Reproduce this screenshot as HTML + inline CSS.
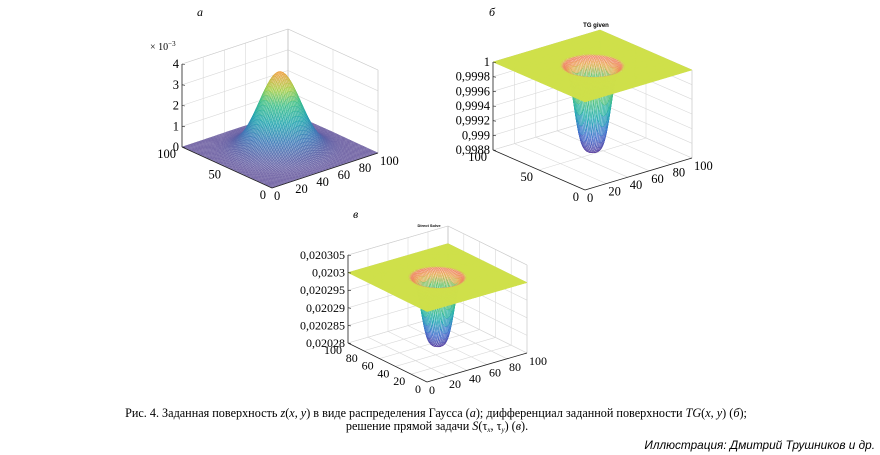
<!DOCTYPE html>
<html><head><meta charset="utf-8"><style>
html,body{margin:0;padding:0;background:#fff;}
svg{display:block;}
text{font-family:"Liberation Serif",serif;}
</style></head><body>
<svg id="s" width="880" height="455" xmlns="http://www.w3.org/2000/svg">
<text x="197" y="16" font-size="12" font-style="italic">a</text>
<text x="489" y="16" font-size="12" font-style="italic">б</text>
<text x="353" y="218" font-size="12" font-style="italic">в</text>
<text x="596" y="27" font-size="6" font-weight="bold" text-anchor="middle" style="font-family:'Liberation Sans',sans-serif">TG given</text>
<text x="429" y="227" font-size="4" text-anchor="middle" style="font-family:'Liberation Sans',sans-serif" font-weight="bold">Direct Solve</text>
<text x="150" y="50" font-size="10">× 10<tspan dy="-4" font-size="7">−3</tspan></text>
<text x="436" y="417" font-size="12.2" text-anchor="middle">Рис. 4. Заданная поверхность <tspan font-style="italic">z</tspan>(<tspan font-style="italic">x</tspan>, <tspan font-style="italic">y</tspan>) в виде распределения Гаусса (<tspan font-style="italic">a</tspan>); дифференциал заданной поверхности <tspan font-style="italic">TG</tspan>(<tspan font-style="italic">x</tspan>, <tspan font-style="italic">y</tspan>) (<tspan font-style="italic">б</tspan>);</text>
<text x="437" y="430" font-size="12.2" text-anchor="middle">решение прямой задачи <tspan font-style="italic">S</tspan>(τ<tspan font-size="7" dy="2" font-style="italic">x</tspan><tspan dy="-2">, τ</tspan><tspan font-size="7" dy="2" font-style="italic">y</tspan><tspan dy="-2">) (</tspan><tspan font-style="italic">в</tspan>).</text>
<text x="875" y="449" font-size="11.8" font-style="italic" text-anchor="end" style="font-family:'Liberation Sans',sans-serif">Иллюстрация: Дмитрий Трушников и др.</text>
</svg>
<script>
var S=document.getElementById('s'),NS='http://www.w3.org/2000/svg';
function el(n,a,t){var e=document.createElementNS(NS,n);for(var k in a)e.setAttribute(k,a[k]);if(t!=null)e.textContent=t;S.appendChild(e);return e;}
function hex(c){return [parseInt(c.substr(1,2),16),parseInt(c.substr(3,2),16),parseInt(c.substr(5,2),16)];}
function cmap(stops,t){t=Math.max(0,Math.min(1,t));for(var i=1;i<stops.length;i++){if(t<=stops[i][0]){var a=stops[i-1],b=stops[i],u=(t-a[0])/(b[0]-a[0]||1),ca=hex(a[1]),cb=hex(b[1]);return [0,1,2].map(function(k){return Math.round(ca[k]+(cb[k]-ca[k])*u);});}}return hex(stops[stops.length-1][1]);}
function rgb(c){return 'rgb('+c[0]+','+c[1]+','+c[2]+')';}
function mix(c,w){return c.map(function(v){return Math.round(v+(255-v)*w);});}
function plot(c){
 var L=c.L,F=c.F,R=c.R,H=c.H;
 function P(x,y,z){return [F[0]+x*(R[0]-F[0])+y*(L[0]-F[0]),F[1]+x*(R[1]-F[1])+y*(L[1]-F[1])-z*H];}
 function line(a,b,col,w){el('line',{x1:a[0].toFixed(1),y1:a[1].toFixed(1),x2:b[0].toFixed(1),y2:b[1].toFixed(1),stroke:col,'stroke-width':w||0.6});}
 var g='#d9d9d9';
 c.zt.forEach(function(z){line(P(0,1,z),P(1,1,z),g);line(P(1,1,z),P(1,0,z),g);});
 c.xt.forEach(function(x){line(P(x,0,0),P(x,1,0),g);line(P(x,1,0),P(x,1,1),g);});
 c.yt.forEach(function(y){line(P(0,y,0),P(1,y,0),g);line(P(1,y,0),P(1,y,1),g);});
 line(P(1,1,0),P(1,1,1),'#bbb');line(P(0,1,1),P(1,1,1),'#ccc');line(P(1,1,1),P(1,0,1),'#ccc');line(P(1,0,0),P(1,0,1),'#ccc');
 var N=c.N,q=[];
 for(var i=0;i<N;i++)for(var j=0;j<N;j++){
  var x0=i/N,x1=(i+1)/N,y0=j/N,y1=(j+1)/N;
  var z00=c.f(x0,y0),z10=c.f(x1,y0),z11=c.f(x1,y1),z01=c.f(x0,y1);
  q.push([x0+y0,[P(x0,y0,z00),P(x1,y0,z10),P(x1,y1,z11),P(x0,y1,z01)],(z00+z10+z11+z01)/4]);
 }
 q.sort(function(a,b){return b[0]-a[0];});
 var parts=[];
 q.forEach(function(o){var col=c.col(o[2]);var fill=o[2]>=c.flat?col:mix(col,c.lw);
  parts.push('<polygon points="'+o[1].map(function(p){return p[0].toFixed(1)+','+p[1].toFixed(1);}).join(' ')+'" fill="'+rgb(fill)+'" stroke="'+rgb(col)+'" stroke-width="0.5"/>');});
 var gg=document.createElementNS(NS,'g');gg.innerHTML=parts.join('');S.appendChild(gg);
 line(P(0,1,0),P(0,1,1),'#222',0.8);line(F,L,'#222',0.8);line(F,R,'#222',0.8);
 c.zl.forEach(function(s,k){var p=P(0,1,c.zt[k]);line(p,[p[0]+3,p[1]+0.5],'#222',0.6);el('text',{x:p[0]-3,y:p[1]+4,'font-size':c.fs,'text-anchor':'end'},s);});
 c.xl.forEach(function(s,k){var p=P(c.xt[k],0,0);el('text',{x:p[0]+2,y:p[1]+12,'font-size':c.fs},s);});
 c.yl.forEach(function(s,k){var p=P(0,c.yt[k],0);el('text',{x:p[0]-6,y:p[1]+11,'font-size':c.fs,'text-anchor':'end'},s);});
}
function g2(x,y,s){return Math.exp(-((x-.5)*(x-.5)+(y-.5)*(y-.5))/(2*s*s));}
function sg(x,y,s){var r=Math.sqrt((x-.5)*(x-.5)+(y-.5)*(y-.5))/s;return Math.exp(-r*r*r*r);}
var vir=[[0,'#7466a6'],[0.08,'#5a5fa6'],[0.25,'#3c78b8'],[0.45,'#22a6b0'],[0.65,'#3ec08a'],[0.82,'#a8cf48'],[1,'#f0a040']];
plot({L:[182,147],F:[272,188],R:[378,153],H:83,N:70,lw:0.35,flat:2,fs:12.5,
 f:function(x,y){return 0.94*g2(x,y,0.15);},col:function(z){return cmap(vir,z/0.94);},
 zt:[0,.25,.5,.75,1],zl:['0','1','2','3','4'],xt:[0,.2,.4,.6,.8,1],xl:['0','20','40','60','80','100'],yt:[0,.5,1],yl:['0','50','100']});
var pit=[[0,'#5a3a9a'],[0.25,'#4070d0'],[0.5,'#20b0b0'],[0.75,'#60c870'],[0.9,'#e8b050'],[0.99,'#f08060'],[1,'#cfe04a']];
plot({L:[493,150],F:[585,190],R:[692,158],H:88,N:80,lw:0.45,flat:0.999,fs:12.5,
 f:function(x,y){return 1-0.97*sg(x,y,0.14);},col:function(z){return z>=0.999?hex('#cfe04a'):cmap(pit,(z-0.03)/0.97);},
 zt:[1,5/6,4/6,3/6,2/6,1/6,0],zl:['1','0,9998','0,9996','0,9994','0,9992','0,999','0,9988'],xt:[0,.2,.4,.6,.8,1],xl:['0','20','40','60','80','100'],yt:[0,.5,1],yl:['0','50','100']});
plot({L:[348,343],F:[427,382],R:[527,353],H:88,N:80,lw:0.45,flat:0.799,fs:12,
 f:function(x,y){return 0.8-0.77*sg(x,y,0.14);},col:function(z){return z>=0.799?hex('#cfe04a'):cmap(pit,(z-0.03)/0.77);},
 zt:[1,.8,.6,.4,.2,0],zl:['0,020305','0,0203','0,020295','0,02029','0,020285','0,02028'],xt:[0,.2,.4,.6,.8,1],xl:['0','20','40','60','80','100'],yt:[0,.2,.4,.6,.8,1],yl:['0','20','40','60','80','100']});
</script>
</body></html>
